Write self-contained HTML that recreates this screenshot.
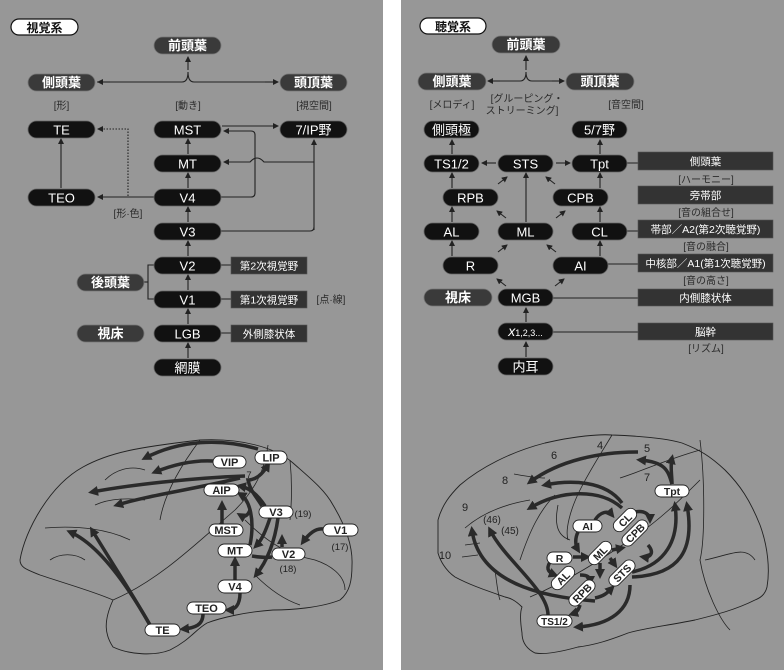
<!DOCTYPE html>
<html><head><meta charset="utf-8"><style>
html,body{margin:0;padding:0;background:#fff;}
svg{display:block;}
text{font-family:"Liberation Sans","Noto Sans CJK JP",sans-serif;}
</style></head><body>
<svg width="784" height="670" viewBox="0 0 784 670" xmlns="http://www.w3.org/2000/svg">
<defs>
<marker id="a" markerWidth="6" markerHeight="6" refX="5" refY="3" orient="auto" markerUnits="userSpaceOnUse"><path d="M0,0 L6,3 L0,6 z" fill="#222"/></marker>
<marker id="b" markerWidth="10" markerHeight="10" refX="6" refY="5" orient="auto" markerUnits="userSpaceOnUse"><path d="M0,0 L10,5 L0,10 z" fill="#2a2a2a"/></marker>
</defs>
<rect x="0" y="0" width="383" height="670" fill="#979797"/>
<rect x="401" y="0" width="383" height="670" fill="#979797"/>

<!-- ============ LEFT PANEL ============ -->
<g font-size="13">
<rect x="11" y="19" width="67" height="16" rx="8" fill="#fff" stroke="#111" stroke-width="1.2"/>
<text x="44.5" y="32" text-anchor="middle" font-weight="bold" fill="#111" font-size="12">視覚系</text>
</g>
<g stroke="#222" stroke-width="1.1" fill="none">
<path d="M188,70 L188,57" marker-end="url(#a)"/>
<path d="M97,82 L182,82 Q188,82 188,72 Q188,82 194,82 L278,82" />
<path d="M110,82 L98,82" marker-end="url(#a)"/>
<path d="M265,82 L278,82" marker-end="url(#a)"/>
<path d="M61,188 L61,139" marker-end="url(#a)"/>
<path d="M154,197 L98,197" marker-end="url(#a)"/>
<path d="M128,196 L128,129 L98,129" stroke-dasharray="1.5,1.5" marker-end="url(#a)"/>
<path d="M222,126 L278,126" marker-end="url(#a)"/>
<path d="M221,197 L251,197 Q255,197 255,193 L255,135 Q255,131 251,131 L224,131" marker-end="url(#a)"/>
<path d="M314,162 L264,162 Q257,154 250,162 L224,162" marker-end="url(#a)"/>
<path d="M314,230 L314,140" marker-end="url(#a)"/>
<path d="M221,231 L310,231 Q314,231 314,227"/>
<path d="M188,154 L188,139" marker-end="url(#a)"/>
<path d="M188,188 L188,173" marker-end="url(#a)"/>
<path d="M188,222 L188,207" marker-end="url(#a)"/>
<path d="M188,256 L188,241" marker-end="url(#a)"/>
<path d="M188,290 L188,275" marker-end="url(#a)"/>
<path d="M188,324 L188,309" marker-end="url(#a)"/>
<path d="M188,358 L188,343" marker-end="url(#a)"/>
<path d="M154,265 L148,265 L148,299 L154,299"/>
<path d="M144,282 L148,282"/>
<path d="M221,265 L231,265 M221,299 L231,299 M221,333 L231,333"/>
</g>
<g fill="#3a3a3a" stroke="#777" stroke-width="0.8">
<rect x="154" y="37" width="67" height="17" rx="8.5"/>
<rect x="28" y="74" width="67" height="17" rx="8.5"/>
<rect x="280" y="74" width="67" height="17" rx="8.5"/>
<rect x="77" y="274" width="67" height="17" rx="8.5"/>
<rect x="77" y="325" width="67" height="17" rx="8.5"/>
</g>
<g fill="#fff" font-size="13" font-weight="bold" text-anchor="middle">
<text x="187.5" y="50">前頭葉</text><text x="61.5" y="87">側頭葉</text><text x="313.5" y="87">頭頂葉</text>
<text x="110.5" y="287">後頭葉</text><text x="110.5" y="338">視床</text>
</g>
<g fill="#111" stroke="#666" stroke-width="0.8">
<rect x="28" y="121" width="67" height="17" rx="8.5"/>
<rect x="28" y="189" width="67" height="17" rx="8.5"/>
<rect x="154" y="121" width="67" height="17" rx="8.5"/>
<rect x="154" y="155" width="67" height="17" rx="8.5"/>
<rect x="154" y="189" width="67" height="17" rx="8.5"/>
<rect x="154" y="223" width="67" height="17" rx="8.5"/>
<rect x="154" y="257" width="67" height="17" rx="8.5"/>
<rect x="154" y="291" width="67" height="17" rx="8.5"/>
<rect x="154" y="325" width="67" height="17" rx="8.5"/>
<rect x="154" y="359" width="67" height="17" rx="8.5"/>
<rect x="280" y="121" width="67" height="17" rx="8.5"/>
</g>
<g fill="#fff" font-size="13" text-anchor="middle">
<text x="61.5" y="134.5">TE</text><text x="61.5" y="202.5">TEO</text>
<text x="187.5" y="134.5">MST</text><text x="187.5" y="168.5">MT</text><text x="187.5" y="202.5">V4</text>
<text x="187.5" y="236.5">V3</text><text x="187.5" y="270.5">V2</text><text x="187.5" y="304.5">V1</text>
<text x="187.5" y="338.5">LGB</text><text x="187.5" y="372.5">網膜</text>
<text x="313.5" y="134.5">7/IP野</text>
</g>
<g fill="#333" stroke="#555" stroke-width="0.6">
<rect x="231" y="257" width="76" height="17"/><rect x="231" y="291" width="76" height="17"/><rect x="231" y="325" width="76" height="17"/>
</g>
<g fill="#fff" font-size="10.5" text-anchor="middle">
<text x="269" y="269.5">第2次視覚野</text><text x="269" y="303.5">第1次視覚野</text><text x="269" y="337.5">外側膝状体</text>
</g>
<g fill="#2a2a2a" font-size="10" text-anchor="middle">
<text x="61.5" y="109">[形]</text><text x="188" y="109">[動き]</text><text x="314" y="109">[視空間]</text>
<text x="128" y="217">[形·色]</text><text x="331" y="303">[点·線]</text>
</g>

<!-- LEFT BRAIN -->
<path d="M20,560 C25,530 50,485 83,467 C110,452 140,447 200,440 C240,438 275,447 293,463 C310,478 325,490 333,505 C345,525 353,545 352,565 C352,580 350,592 340,600 C320,608 290,610 273,610 C245,612 220,618 207,623 C195,630 190,640 170,650 C155,656 130,655 113,647 C105,635 103,622 113,600 C95,592 70,585 40,575 C28,570 20,568 20,560 Z" fill="none" stroke="#222" stroke-width="0.9"/>
<g fill="none" stroke="#222" stroke-width="0.8">
<path d="M113,600 C160,580 200,540 235,510 C255,490 265,470 268,445"/>
<path d="M200,440 C185,460 165,490 160,520"/>
<path d="M95,505 C110,498 130,498 145,500"/>
<path d="M45,528 C80,525 110,530 130,540"/>
<path d="M50,560 C60,553 75,553 85,560"/>
<path d="M290,460 C292,480 292,500 290,520"/>
<path d="M245,520 C270,545 290,555 315,560 C330,565 345,575 345,590"/>
<path d="M255,575 C270,590 285,600 300,605"/>
<path d="M105,480 C115,470 130,465 145,470"/>
</g>
<g fill="none" stroke="#2a2a2a" stroke-width="3.5">
<path d="M258,449 C220,438 180,440 145,458" marker-end="url(#b)"/>
<path d="M213,461 C195,460 175,464 155,472" marker-end="url(#b)"/>
<path d="M245,476 C190,478 130,485 92,492" marker-end="url(#b)"/>
<path d="M240,478 C190,490 150,495 117,505" marker-end="url(#b)"/>
<path d="M150,625 C130,590 100,545 70,532" marker-end="url(#b)"/>
<path d="M150,625 C130,590 110,560 92,530" marker-end="url(#b)"/>
<path d="M222,524 L222,504" marker-end="url(#b)"/>
<path d="M262,506 C255,495 250,490 248,480 C258,480 265,470 268,465" marker-end="url(#b)"/>
<path d="M265,506 C258,495 250,488 240,486" marker-end="url(#b)"/>
<path d="M250,545 C255,520 250,500 240,494" marker-end="url(#b)"/>
<path d="M250,510 C248,515 245,518 240,515" marker-end="url(#b)"/>
<path d="M270,518 C266,530 262,540 256,546" marker-end="url(#b)"/>
<path d="M278,518 C275,540 268,560 256,575" marker-end="url(#b)"/>
<path d="M272,557 C265,558 258,557 252,556"/>
<path d="M282,547 L282,538" marker-end="url(#b)"/>
<path d="M323,529 C315,528 308,535 303,542" marker-end="url(#b)"/>
<path d="M235,580 L235,560" marker-end="url(#b)"/>
<path d="M240,593 C240,605 235,610 228,610" marker-end="url(#b)"/>
<path d="M203,614 C203,625 195,628 183,629" marker-end="url(#b)"/>
</g>
<g fill="#fff" stroke="#222" stroke-width="0.9">
<rect x="255" y="451" width="32" height="13" rx="6.5"/>
<rect x="213" y="456" width="33" height="12" rx="6"/>
<rect x="204" y="484" width="35" height="12" rx="6"/>
<rect x="259" y="506" width="34" height="12" rx="6"/>
<rect x="209" y="524" width="34" height="12" rx="6"/>
<rect x="323" y="524" width="35" height="12" rx="6"/>
<rect x="218" y="544" width="34" height="13" rx="6.5"/>
<rect x="272" y="548" width="33" height="12" rx="6"/>
<rect x="218" y="580" width="34" height="13" rx="6.5"/>
<rect x="187" y="602" width="39" height="12" rx="6"/>
<rect x="145" y="624" width="35" height="12" rx="6"/>
</g>
<g fill="#222" font-size="11" text-anchor="middle" font-weight="bold">
<text x="271" y="461.5">LIP</text><text x="229.5" y="466">VIP</text><text x="221.5" y="494">AIP</text>
<text x="276" y="516">V3</text><text x="226" y="534">MST</text><text x="340.5" y="534">V1</text>
<text x="235" y="554.5">MT</text><text x="288.5" y="558">V2</text><text x="235" y="590.5">V4</text>
<text x="206.5" y="612">TEO</text><text x="162.5" y="634">TE</text>
</g>
<g fill="#222" font-size="9.5" text-anchor="middle">
<text x="303" y="517">(19)</text><text x="340" y="550">(17)</text><text x="288" y="572">(18)</text><text x="249" y="478">7</text>
</g>

<!-- ============ RIGHT PANEL ============ -->
<rect x="420" y="18" width="66" height="16" rx="8" fill="#fff" stroke="#111" stroke-width="1.2"/>
<text x="453" y="31" text-anchor="middle" font-weight="bold" fill="#111" font-size="12">聴覚系</text>
<g stroke="#222" stroke-width="1.1" fill="none">
<path d="M526,70 L526,56" marker-end="url(#a)"/>
<path d="M488,81 L520,81 Q526,81 526,72 Q526,81 532,81 L564,81"/>
<path d="M500,81 L488,81" marker-end="url(#a)"/>
<path d="M552,81 L564,81" marker-end="url(#a)"/>
<path d="M452,154 L452,140" marker-end="url(#a)"/>
<path d="M600,154 L600,140" marker-end="url(#a)"/>
<path d="M496,163 L482,163" marker-end="url(#a)"/>
<path d="M556,163 L570,163" marker-end="url(#a)"/>
<path d="M452,188 L452,173" marker-end="url(#a)"/>
<path d="M600,188 L600,173" marker-end="url(#a)"/>
<path d="M452,222 L452,207" marker-end="url(#a)"/>
<path d="M600,222 L600,207" marker-end="url(#a)"/>
<path d="M452,256 L452,241" marker-end="url(#a)"/>
<path d="M600,256 L600,241" marker-end="url(#a)"/>
<path d="M526,222 L526,173" marker-end="url(#a)"/>
<path d="M526,322 L526,308" marker-end="url(#a)"/>
<path d="M526,357 L526,342" marker-end="url(#a)"/>
<path d="M498,184 L507,177" marker-end="url(#a)"/>
<path d="M555,184 L546,177" marker-end="url(#a)"/>
<path d="M506,218 L497,211" marker-end="url(#a)"/>
<path d="M556,218 L565,211" marker-end="url(#a)"/>
<path d="M498,252 L507,245" marker-end="url(#a)"/>
<path d="M556,252 L547,245" marker-end="url(#a)"/>
<path d="M506,286 L497,279" marker-end="url(#a)"/>
<path d="M555,286 L564,279" marker-end="url(#a)"/>
<path d="M627,163 L638,163 M627,231 L638,231 M608,264 L638,264 M553,298 L638,298 M553,332 L638,332"/>
</g>
<g fill="#3a3a3a" stroke="#777" stroke-width="0.8">
<rect x="492" y="36" width="68" height="17" rx="8.5"/>
<rect x="418" y="73" width="68" height="17" rx="8.5"/>
<rect x="566" y="73" width="68" height="17" rx="8.5"/>
<rect x="424" y="289" width="68" height="17" rx="8.5"/>
</g>
<g fill="#fff" font-size="13" font-weight="bold" text-anchor="middle">
<text x="526" y="49">前頭葉</text><text x="452" y="86">側頭葉</text><text x="600" y="86">頭頂葉</text><text x="458" y="302">視床</text>
</g>
<g fill="#111" stroke="#666" stroke-width="0.8">
<rect x="424" y="121" width="55" height="17" rx="8.5"/>
<rect x="572" y="121" width="55" height="17" rx="8.5"/>
<rect x="424" y="155" width="55" height="17" rx="8.5"/>
<rect x="498" y="155" width="55" height="17" rx="8.5"/>
<rect x="572" y="155" width="55" height="17" rx="8.5"/>
<rect x="443" y="189" width="55" height="17" rx="8.5"/>
<rect x="553" y="189" width="55" height="17" rx="8.5"/>
<rect x="424" y="223" width="55" height="17" rx="8.5"/>
<rect x="498" y="223" width="55" height="17" rx="8.5"/>
<rect x="572" y="223" width="55" height="17" rx="8.5"/>
<rect x="443" y="257" width="55" height="17" rx="8.5"/>
<rect x="553" y="257" width="55" height="17" rx="8.5"/>
<rect x="498" y="289" width="55" height="17" rx="8.5"/>
<rect x="498" y="323" width="55" height="17" rx="8.5"/>
<rect x="498" y="358" width="55" height="17" rx="8.5"/>
</g>
<g fill="#fff" font-size="13" text-anchor="middle">
<text x="451.5" y="134.5">側頭極</text><text x="599.5" y="134.5">5/7野</text>
<text x="451.5" y="168.5">TS1/2</text><text x="525.5" y="168.5">STS</text><text x="599.5" y="168.5">Tpt</text>
<text x="470.5" y="202.5">RPB</text><text x="580.5" y="202.5">CPB</text>
<text x="451.5" y="236.5">AL</text><text x="525.5" y="236.5">ML</text><text x="599.5" y="236.5">CL</text>
<text x="470.5" y="270.5">R</text><text x="580.5" y="270.5">AI</text>
<text x="525.5" y="302.5">MGB</text>
<text x="525.5" y="336" font-family="Liberation Serif,serif"><tspan font-style="italic" font-size="14">x</tspan><tspan font-size="9">1,2,3...</tspan></text>
<text x="525.5" y="371.5">内耳</text>
</g>
<g fill="#333" stroke="#555" stroke-width="0.6">
<rect x="638" y="152" width="135" height="18"/><rect x="638" y="186" width="135" height="18"/>
<rect x="638" y="220" width="135" height="18"/><rect x="638" y="254" width="135" height="18"/>
<rect x="638" y="289" width="135" height="17"/><rect x="638" y="323" width="135" height="17"/>
</g>
<g fill="#fff" font-size="10.5" text-anchor="middle">
<text x="705.5" y="165">側頭葉</text><text x="705.5" y="199">旁帯部</text>
<text x="705.5" y="233">帯部／A2(第2次聴覚野)</text><text x="705.5" y="267">中核部／A1(第1次聴覚野)</text>
<text x="705.5" y="301.5">内側膝状体</text><text x="705.5" y="335.5">脳幹</text>
</g>
<g fill="#2a2a2a" font-size="10" text-anchor="middle">
<text x="452" y="108">[メロディ]</text><text x="527" y="102">[グルーピング・</text><text x="522" y="114">ストリーミング]</text>
<text x="626" y="108">[音空間]</text>
<text x="706" y="183">[ハーモニー]</text><text x="706" y="216">[音の組合せ]</text>
<text x="706" y="250">[音の融合]</text><text x="706" y="284">[音の高さ]</text><text x="706" y="352">[リズム]</text>
</g>

<!-- RIGHT BRAIN -->
<path d="M438,520 C442,505 450,495 460,485 C480,468 510,452 545,443 C575,436 600,434 612,435 C640,436 665,438 682,443 C700,450 710,456 725,470 C740,485 750,500 760,525 C768,547 770,570 767,587 C765,595 760,598 755,600 C735,610 715,615 695,620 C665,626 645,628 628,633 C610,640 595,645 578,647 C560,652 545,655 535,653 C525,648 522,640 522,633 C520,620 520,612 522,607 C515,600 510,598 505,597 C485,590 470,585 455,577 C445,570 440,560 438,553 Z" fill="none" stroke="#222" stroke-width="0.9"/>
<g fill="none" stroke="#222" stroke-width="0.8">
<path d="M612,435 C600,455 590,470 580,490 C570,510 565,530 568,540"/>
<path d="M620,478 C645,470 665,460 700,450"/>
<path d="M514,474 C525,476 535,478 545,478"/>
<path d="M465,528 C480,515 500,505 530,500"/>
<path d="M465,545 L480,543 M462,557 L478,555"/>
<path d="M520,560 C530,530 540,510 555,495"/>
<path d="M558,505 C555,520 555,535 570,540"/>
<path d="M530,597 C570,580 600,560 630,540 C660,520 680,500 700,480"/>
<path d="M700,440 C705,480 705,540 700,560 C705,590 720,620 730,630"/>
<path d="M755,560 C745,545 730,555 705,560"/>
<path d="M495,570 C497,585 498,595 500,600"/>
</g>
<g fill="none" stroke="#2a2a2a" stroke-width="3.5">
<path d="M638,452 C600,452 560,460 530,482" marker-end="url(#b)"/>
<path d="M622,503 C605,480 570,480 545,485" marker-end="url(#b)"/>
<path d="M622,508 C600,488 560,490 530,508" marker-end="url(#b)"/>
<path d="M672,484 C668,470 665,462 640,460" marker-end="url(#b)"/>
<path d="M672,484 C672,475 670,467 672,458" marker-end="url(#b)"/>
<path d="M595,601 C560,598 480,590 472,530" marker-end="url(#b)"/>
<path d="M548,615 C548,590 505,560 490,530" marker-end="url(#b)"/>
<path d="M632,572 C665,565 680,540 675,505" marker-end="url(#b)"/>
<path d="M632,577 C680,575 695,550 687,505" marker-end="url(#b)"/>
<path d="M630,585 C630,610 610,625 577,627" marker-end="url(#b)"/>
<path d="M595,520 C600,512 608,510 612,515" marker-end="url(#b)"/>
<path d="M635,512 C645,510 650,515 650,520" marker-end="url(#b)"/>
<path d="M578,532 C575,538 575,545 578,550" marker-end="url(#b)"/>
<path d="M573,557 L587,557" marker-end="url(#b)"/>
<path d="M550,562 C545,570 550,573 555,575" marker-end="url(#b)"/>
<path d="M580,575 C588,575 590,577 590,582" marker-end="url(#b)"/>
<path d="M612,550 L622,548" marker-end="url(#b)"/>
<path d="M610,558 L615,565" marker-end="url(#b)"/>
<path d="M600,563 L600,575" marker-end="url(#b)"/>
<path d="M648,545 C655,553 650,558 643,557" marker-end="url(#b)"/>
<path d="M595,598 C605,596 608,592 612,588" marker-end="url(#b)"/>
<path d="M580,605 C578,612 575,613 572,614" marker-end="url(#b)"/>
</g>
<g fill="#fff" stroke="#222" stroke-width="0.9">
<rect x="655" y="485" width="34" height="12" rx="6"/>
<rect x="573" y="520" width="29" height="12" rx="6"/>
<rect x="547" y="552" width="25" height="12" rx="6"/>
<rect x="537" y="615" width="35" height="12" rx="6"/>
<rect x="611" y="514" width="28" height="12" rx="6" transform="rotate(-45 625 520)"/>
<rect x="619" y="527" width="32" height="12" rx="6" transform="rotate(-45 635 533)"/>
<rect x="586" y="547" width="28" height="12" rx="6" transform="rotate(-45 600 553)"/>
<rect x="606" y="567" width="32" height="12" rx="6" transform="rotate(-45 622 573)"/>
<rect x="549" y="572" width="28" height="12" rx="6" transform="rotate(-45 563 578)"/>
<rect x="566" y="587" width="32" height="12" rx="6" transform="rotate(-45 582 593)"/>
</g>
<g fill="#222" font-size="10.5" text-anchor="middle" font-weight="bold">
<text x="672" y="495">Tpt</text><text x="587.5" y="530">AI</text><text x="559.5" y="562">R</text>
<text x="554.5" y="625" font-size="10">TS1/2</text>
<text x="625" y="524" transform="rotate(-45 625 520)">CL</text>
<text x="635" y="537" transform="rotate(-45 635 533)">CPB</text>
<text x="600" y="557" transform="rotate(-45 600 553)">ML</text>
<text x="622" y="577" transform="rotate(-45 622 573)">STS</text>
<text x="563" y="582" transform="rotate(-45 563 578)">AL</text>
<text x="582" y="597" transform="rotate(-45 582 593)">RPB</text>
</g>
<g fill="#222" font-size="11" text-anchor="middle">
<text x="600" y="449">4</text><text x="647" y="452">5</text><text x="554" y="459">6</text><text x="647" y="481">7</text>
<text x="505" y="484">8</text><text x="465" y="511">9</text><text x="445" y="559">10</text>
<text x="492" y="523" font-size="10">(46)</text><text x="510" y="534" font-size="10">(45)</text>
</g>
</svg>
</body></html>
